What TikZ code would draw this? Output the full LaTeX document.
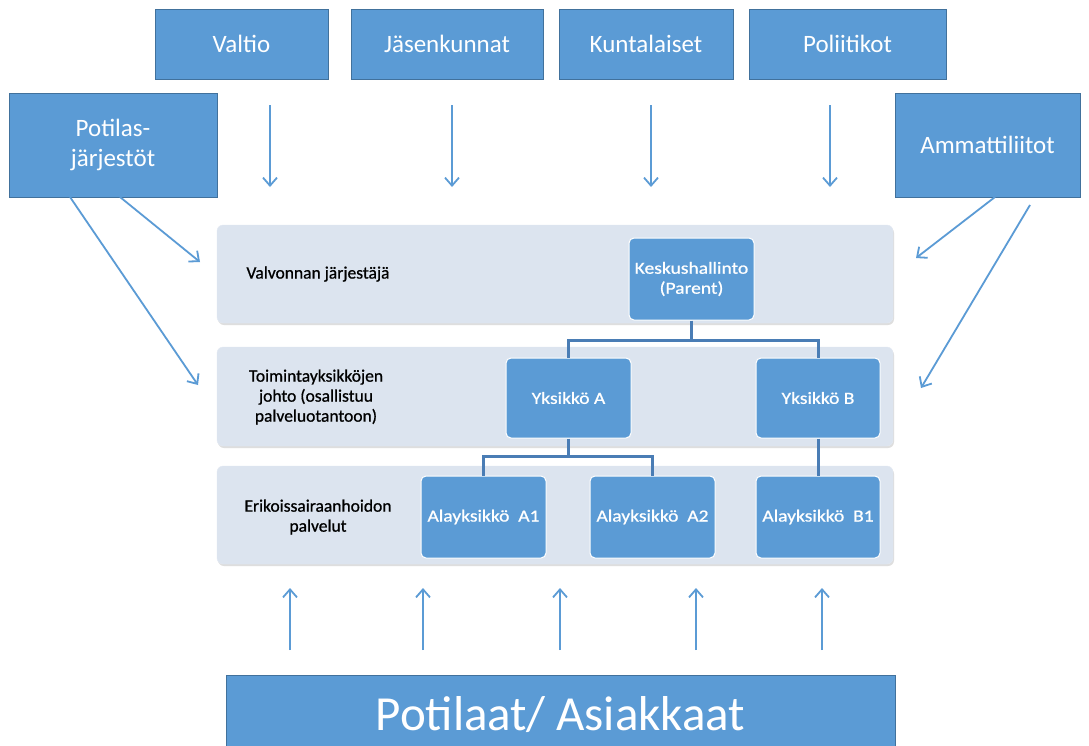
\documentclass[tikz,border=0pt]{standalone}
\usepackage{fontspec}
\setmainfont{Carlito}
\newfontfamily\wideface[FakeStretch=1.15,FakeBold=0.8]{Carlito}
\newfontfamily\labelface[FakeBold=0.8]{Carlito}
\usetikzlibrary{arrows.meta,shadows}
\definecolor{boxblue}{HTML}{5B9BD5}
\definecolor{boxedge}{HTML}{41719C}
\definecolor{bandfill}{HTML}{DCE4EF}
\definecolor{linkblue}{HTML}{4A7DB5}
\definecolor{arrowblue}{HTML}{5B9BD5}
\begin{document}
\begin{tikzpicture}[x=1pt,y=-1pt,
 topbox/.style={draw=boxedge, fill=boxblue, line width=1pt, text=white, font=\fontsize{25}{30}\selectfont, align=center, inner sep=0pt},
 band/.style={fill=bandfill, draw=bandfill!80!white, rounded corners=6pt, inner sep=0pt, drop shadow={shadow xshift=1pt, shadow yshift=-2pt, fill=black!25, opacity=0.5}},
 unitbox/.style={fill=boxblue, draw=white, line width=1pt, rounded corners=5pt, text=white, font=\wideface\fontsize{17}{20}\selectfont, align=center, inner sep=0pt},
 lbl/.style={font=\labelface\fontsize{17.5}{20}\selectfont, align=center, text=black},
 flow/.style={draw=arrowblue, line width=1.8pt, -{Straight Barb[length=8pt,width=14pt]}},
 link/.style={draw=linkblue, line width=3pt}]
\useasboundingbox (0,0) rectangle (1089,745);
\fill[white] (0,0) rectangle (1089,745);

% top boxes
\node[topbox, minimum width=173pt, minimum height=70pt] (valtio) at (241.5,44) {Valtio};
\node[topbox, minimum width=192pt, minimum height=70pt] (jasen) at (447,44) {Jäsenkunnat};
\node[topbox, minimum width=174pt, minimum height=70pt] (kunta) at (646,44) {Kuntalaiset};
\node[topbox, minimum width=197pt, minimum height=70pt] (poli) at (847.5,44) {Poliitikot};
\node[topbox, minimum width=208pt, minimum height=104pt] (potilas) at (113,145) {Potilas-\\järjestöt};
\node[topbox, minimum width=185pt, minimum height=104pt] (ammatti) at (987.5,145) {Ammattiliitot};

% bands
\node[band, minimum width=676pt, minimum height=98pt] (band1) at (555,274) {};
\node[band, minimum width=676pt, minimum height=99pt] (band2) at (555,396.5) {};
\node[band, minimum width=676pt, minimum height=98pt] (band3) at (555,515) {};

% band labels
\node[lbl] (l1) at (318,274) {Valvonnan järjestäjä};
\node[lbl] (l2) at (316,397) {Toimintayksikköjen\\johto (osallistuu\\palveluotantoon)};
\node[lbl] (l3) at (318,517) {Erikoissairaanhoidon\\palvelut};

% units
\node[unitbox, minimum width=125pt, minimum height=82pt] (kesk) at (691.5,279) {Keskushallinto\\(Parent)};
\node[unitbox, minimum width=125pt, minimum height=80pt] (ya) at (568.5,398) {Yksikkö A};
\node[unitbox, minimum width=124pt, minimum height=80pt] (yb) at (818,398) {Yksikkö B};
\node[unitbox, minimum width=125pt, minimum height=82pt] (a1) at (483.5,517) {Alayksikkö~ A1};
\node[unitbox, minimum width=125pt, minimum height=82pt] (a2) at (652.5,517) {Alayksikkö~ A2};
\node[unitbox, minimum width=124pt, minimum height=82pt] (b1) at (818,517) {Alayksikkö~ B1};

% org links
\draw[link] (kesk.south) -- ++(0,20) -| (ya.north);
\draw[link] (kesk.south) ++(0,20) -| (yb.north);
\draw[link] (ya.south) -- ++(0,18) -| (a1.north);
\draw[link] (ya.south) ++(0,18) -| (a2.north);
\draw[link] (yb.south) -- (b1.north);

% bottom box
\node[topbox, minimum width=669pt, minimum height=80pt, font=\fontsize{49}{54}\selectfont] (asiak) at (560.5,715) {Potilaat\kern-1pt/ Asiakkaat};

% down arrows
\foreach \i/\x in {1/270,2/452,3/651,4/830}{
  \coordinate (ds\i) at (\x,105);
  \coordinate (de\i) at (\x,187);
  \draw[flow] (ds\i) -- (de\i);
}
% up arrows
\foreach \i/\x in {1/290,2/423,3/560,4/696,5/822}{
  \coordinate (us\i) at (\x,650);
  \coordinate (ue\i) at (\x,588);
  \draw[flow] (us\i) -- (ue\i);
}
% diagonal arrows
\coordinate (pa) at (120,197);
\coordinate (pb) at (70,197);
\coordinate (pae) at (200,262);
\coordinate (pbe) at (198,385);
\draw[flow] (pa) -- (pae);
\draw[flow] (pb) -- (pbe);
\coordinate (aa) at (995,197);
\coordinate (ab) at (1030,205);
\coordinate (aae) at (916,258);
\coordinate (abe) at (921,388);
\draw[flow] (aa) -- (aae);
\draw[flow] (ab) -- (abe);
\end{tikzpicture}
\end{document}
